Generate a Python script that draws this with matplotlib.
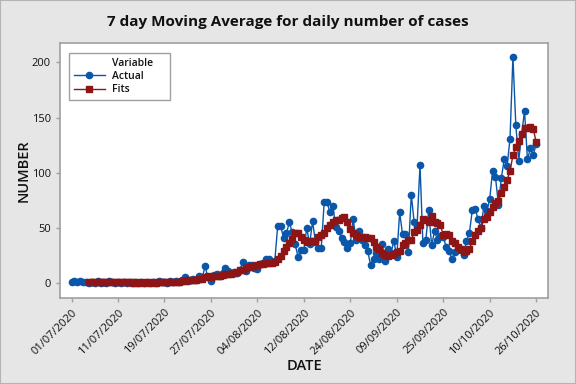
import numpy as np
import matplotlib
matplotlib.use("Agg")
import matplotlib.pyplot as plt
from matplotlib.lines import Line2D
from matplotlib.patches import Rectangle

plt.rcParams['font.family'] = ['Open Sans', 'DejaVu Sans']

actual = [1, 2, 1, 2, 1, 1, 0, 1, 0, 2, 0, 1, 0, 2, 1, 0, 1, 0, 1, 0,
          1, 0, 1, 0, 1, 0, 1, 0, 1, 0, 2, 1, 1, 0, 2, 1, 2, 1, 3, 5,
          2, 3, 4, 3, 6, 5, 15, 5, 2, 7, 8, 6, 9, 14, 11, 9, 10, 9, 12, 19,
          11, 16, 16, 14, 13, 17, 18, 22, 22, 19, 20, 52, 52, 41, 45, 55, 46, 35, 24, 30,
          30, 50, 35, 56, 37, 32, 32, 73, 73, 64, 70, 51, 47, 41, 37, 32, 36, 58, 39, 47,
          39, 34, 29, 16, 22, 27, 22, 35, 20, 31, 27, 38, 24, 64, 44, 44, 28, 80, 55, 52,
          107, 36, 39, 66, 34, 47, 39, 43, 42, 33, 29, 22, 28, 30, 30, 25, 38, 45, 66, 67,
          58, 50, 70, 65, 76, 102, 96, 71, 95, 112, 106, 131, 205, 143, 111, 135, 156, 112, 122, 116,
          126]

# 7 day moving average (first 6 observations have no fit)
fits = [None] * 6 + [
    1.1, 1.0, 0.9, 1.0, 0.7, 0.7, 0.6, 0.9, 0.9, 0.7, 0.7, 0.7, 0.7, 0.6,
    0.6, 0.4, 0.6, 0.4, 0.6, 0.4, 0.6, 0.4, 0.6, 0.4, 0.7, 0.7, 0.9, 0.7, 1.0, 1.0,
    1.3, 1.1, 1.6, 2.1, 2.3, 2.4, 2.9, 3.0, 3.6, 3.9, 5.4, 5.9, 5.7, 6.4, 6.6, 6.6,
    7.1, 8.6, 7.9, 8.1, 9.3, 9.7, 11.5, 12.0, 13.5, 14.5, 15.0, 15.5, 16.0, 17.0,
    17.5, 18.0, 18.4, 18.5, 19.0, 22.0, 24.5, 29.0, 33.0, 36.0, 40.0, 45.0, 45.6, 41.4,
    39.0, 37.5, 38.4, 38.4, 38.4, 42.0, 43.5, 45.0, 49.5, 53.0, 55.3, 57.0, 57.0, 59.0,
    59.8, 55.3, 48.6, 45.0, 43.5, 42.0, 41.4, 41.4, 40.8, 40.8, 37.0, 32.3, 30.5, 27.5,
    25.4, 24.5, 25.4, 26.3, 28.4, 28.7, 34.4, 36.0, 38.7, 38.7, 46.0, 48.0, 52.6, 57.7,
    57.0, 55.6, 61.0, 55.3, 54.0, 52.3, 43.8, 44.4, 43.5, 37.8, 36.0, 33.0, 30.8, 28.0,
    29.0, 30.8, 37.8, 43.2, 46.8, 49.5, 58.0, 60.0, 64.0, 69.2, 72.2, 74.6, 81.3, 87.3,
    93.4, 101.5, 115.7, 123.0, 128.4, 134.8, 141.0, 141.0, 141.7, 140.0, 127.8]

date_labels = ["01/07/2020", "11/07/2020", "19/07/2020", "27/07/2020",
               "04/08/2020", "12/08/2020", "24/08/2020", "09/09/2020",
               "25/09/2020", "10/10/2020", "26/10/2020"]
tick_step = 16

blue = "#0a56a8"
red = "#8e1515"
grey = "#a0a0a0"
ink = "#111111"

obs = np.arange(len(actual))
fit_vals = np.array([np.nan if v is None else v for v in fits], dtype=float)

fig = plt.figure(figsize=(5.76, 3.84), dpi=100, facecolor="#e6e6e6")
fig.patches.append(Rectangle((0, 0), 1, 1, transform=fig.transFigure,
                             fill=False, edgecolor="#b4b4b4", lw=1.5))
ax = fig.add_axes([0.104, 0.224, 0.848, 0.663])

ax.plot(obs, actual, color=blue, lw=1.0, marker="o", ms=4.5, zorder=3)
ax.plot(obs, fit_vals, color=red, lw=1.0, marker="s", ms=4.8, zorder=4)

ax.set_xlim(-4.0, 164.2)
ax.set_ylim(-13.6, 217.3)
ax.set_yticks([0, 50, 100, 150, 200])
ax.set_xticks(np.arange(0, len(actual), tick_step))
ax.set_xticklabels(date_labels, rotation=45, ha="right", rotation_mode="anchor")

for s in ax.spines.values():
    s.set_color(grey)
    s.set_linewidth(1.2)
ax.tick_params(colors=grey, labelcolor=ink, labelsize=8, length=3, width=1)

fig.text(0.5, 1 - 22 / 384, "7 day Moving Average for daily number of cases",
         fontsize=11, fontweight="bold", color=ink, ha="center", va="center")
ax.set_ylabel("NUMBER", fontsize=10.5, fontweight="semibold", color=ink, labelpad=1)
ax.set_xlabel("DATE", fontsize=10.5, fontweight="semibold", color=ink, labelpad=2)

handles = [Line2D([], [], color="none"),
           Line2D([], [], color=blue, lw=1.0, marker="o", ms=4.5),
           Line2D([], [], color=red, lw=1.0, marker="s", ms=4.8)]
leg = ax.legend(handles, ["Variable", "Actual", "Fits"], loc="upper left",
                bbox_to_anchor=(0.0184, 0.780, 0.2068, 0.181), mode="expand",
                fontsize=7.5, frameon=True,
                fancybox=False, edgecolor=grey, framealpha=1,
                handlelength=3.0, handletextpad=0.7, labelspacing=0.2,
                borderpad=0.45, borderaxespad=0)
leg.get_frame().set_linewidth(1.0)
for t in leg.get_texts():
    t.set_color(ink)
    t.set_fontweight("semibold")

plt.savefig("out.png", dpi=100, facecolor=fig.get_facecolor())
